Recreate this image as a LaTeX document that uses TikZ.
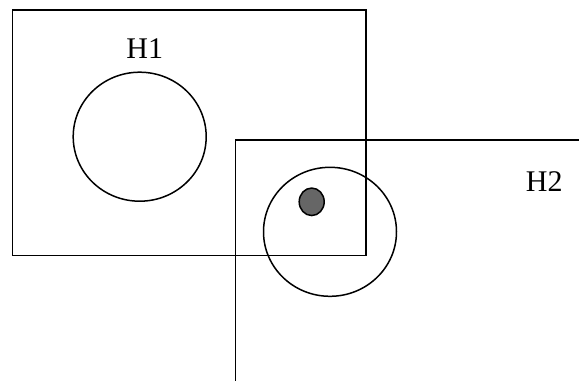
\documentclass[tikz,border=0pt]{standalone}
\usepackage{fontspec}
\setmainfont{Liberation Serif}
\usetikzlibrary{shapes.geometric}

\tikzset{
  setline/.style={line width=1.5pt,black},
  setcirc/.style={ellipse,draw,line width=1.5pt,inner sep=0pt,minimum width=133pt,minimum height=129pt},
  setlabel/.style={font=\fontsize{30}{36}\selectfont,inner sep=0pt}
}

\begin{document}
\begin{tikzpicture}[x=1pt,y=-1pt]
\useasboundingbox (0,0) rectangle (579,383);
% first set
\node[setline,draw,rectangle,inner sep=0pt,minimum width=353.3pt,minimum height=245.7pt] (h1box) at (189.35,132.85) {};
\node[setcirc] (h1circ) at (139.7,136.7) {};
\node[setlabel] (h1lab) at (144.7,49) {H1};
% second set
\coordinate (h2corner) at (235.3,140);
\coordinate (h2right) at (579,140);
\coordinate (h2bottom) at (235.3,381);
\draw[setline] (h2right) -- (h2corner) -- (h2bottom);
\node[setcirc] (h2circ) at (330,231.8) {};
\node[setlabel] (h2lab) at (544.2,181.2) {H2};
% point
\node[ellipse,draw,line width=1.5pt,fill=black!60,inner sep=0pt,minimum width=25pt,minimum height=27.5pt] (dot) at (311.7,201.8) {};
\end{tikzpicture}
\end{document}
